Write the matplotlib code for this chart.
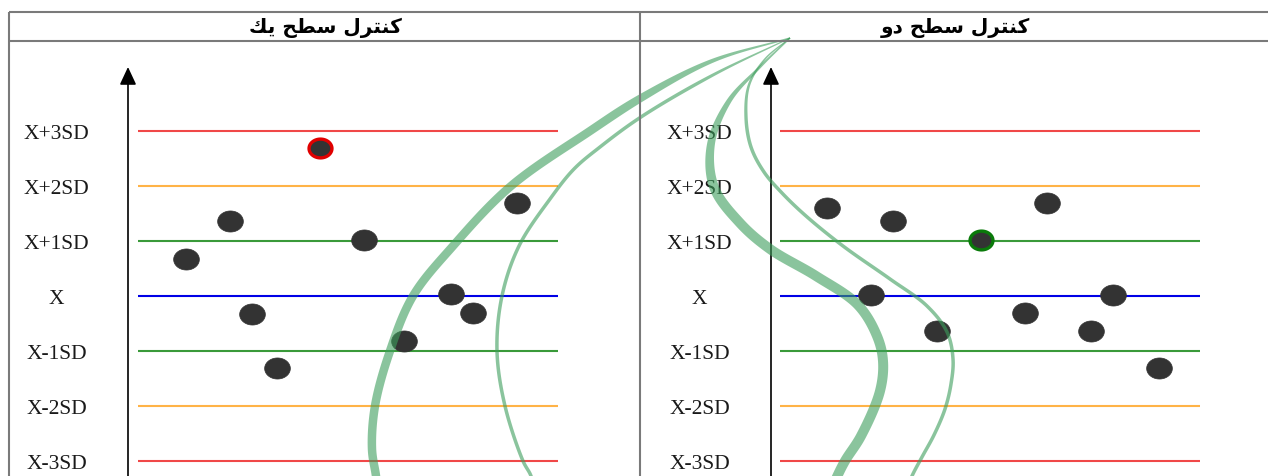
import numpy as np
import matplotlib
matplotlib.use("Agg")
import matplotlib.pyplot as plt
from matplotlib.path import Path
from matplotlib.patches import Polygon

# ---------------- data ----------------
titles = ["كنترل سطح يك", "كنترل سطح دو"]
level_values = [3, 2, 1, 0, -1, -2, -3]
level_labels = ["X+3SD", "X+2SD", "X+1SD", "X", "X-1SD", "X-2SD", "X-3SD"]

level1_x = [48, 92, 114, 139, 182, 226, 266, 313, 335, 379]
level1_y = [0.67, 1.36, -0.33, -1.31, 2.69, 1.02, -0.82, 0.04, -0.31, 1.70]
level1_flag = 4          # point ringed in red

level2_x = [47, 91, 113, 157, 201, 245, 267, 311, 333, 379]
level2_y = [1.60, 0.02, 1.36, -0.64, 1.02, -0.30, 1.69, -0.64, 0.02, -1.30]
level2_flag = 4          # point ringed in green

line_span = (0, 420)

# ---------------- styles ----------------
level_colors = ["#f04848", "#ffb347", "#3a9a3a", "#0000e6", "#3a9a3a", "#ffb347", "#f04848"]
flag_colors = ["#e00000", "#0a7a0a"]
point_color = "#333333"
frame_color = "#7a7a7a"
band_color = (0.24, 0.62, 0.36)

W, H = 1268, 477
fig = plt.figure(figsize=(W / 100, H / 100), dpi=100)
fig.patch.set_facecolor("white")

# ---------- Arabic shaping (presentation forms, visual order) ----------
FORMS = {
    "ك": ("\uFED9", "\uFEDA", "\uFEDB", "\uFEDC"),
    "ن": ("\uFEE5", "\uFEE6", "\uFEE7", "\uFEE8"),
    "ت": ("\uFE95", "\uFE96", "\uFE97", "\uFE98"),
    "ر": ("\uFEAD", "\uFEAE", "\uFEAD", "\uFEAE"),
    "ل": ("\uFEDD", "\uFEDE", "\uFEDF", "\uFEE0"),
    "س": ("\uFEB1", "\uFEB2", "\uFEB3", "\uFEB4"),
    "ط": ("\uFEC1", "\uFEC2", "\uFEC3", "\uFEC4"),
    "ح": ("\uFEA1", "\uFEA2", "\uFEA3", "\uFEA4"),
    "ي": ("\uFEF1", "\uFEF2", "\uFEF3", "\uFEF4"),
    "د": ("\uFEA9", "\uFEAA", "\uFEA9", "\uFEAA"),
    "و": ("\uFEED", "\uFEEE", "\uFEED", "\uFEEE"),
}
NONJOIN = set("ردو")


def shape(text):
    out = []
    for i, ch in enumerate(text):
        if ch not in FORMS:
            out.append(ch)
            continue
        prev = text[i - 1] if i > 0 else None
        nxt = text[i + 1] if i < len(text) - 1 else None
        jp = prev in FORMS and prev not in NONJOIN
        jn = nxt in FORMS and ch not in NONJOIN
        iso, fin, ini, med = FORMS[ch]
        out.append(med if (jp and jn) else fin if jp else ini if jn else iso)
    return "".join(out)[::-1]


# ---------------- panels ----------------
def px_axes(l, r, t, b):
    return fig.add_axes([l / W, 1 - b / H, (r - l) / W, (b - t) / H])


theta = np.linspace(0, 2 * np.pi, 60)
ellipse = Path(np.column_stack([np.cos(theta), 0.82 * np.sin(theta)]), closed=True)

panels = [
    (128, level1_x, level1_y, level1_flag, flag_colors[0], 138),
    (771, level2_x, level2_y, level2_flag, flag_colors[1], 780),
]
for left, xs, ys, flag, fcol, x0 in panels:
    ax = px_axes(left, left + 492, 68, H)
    ax.set_zorder(1)
    ax.patch.set_alpha(0)
    ax.set_xlim(left - x0, left - x0 + 492)
    ax.set_ylim((297 - H) / 55, (297 - 68) / 55)
    for v, c in zip(level_values, level_colors):
        ax.hlines(v, *line_span, color=c, lw=1.5)
    normal = [i for i in range(len(xs)) if i != flag]
    ax.plot([xs[i] for i in normal], [ys[i] for i in normal], ls="none",
            marker=ellipse, ms=18.5, mfc=point_color, mec=point_color, mew=0.5, zorder=4)
    ax.plot([xs[flag]], [ys[flag]], ls="none", marker=ellipse, ms=16.5,
            mfc=point_color, mec=fcol, mew=2.4, zorder=4)
    for s in ax.spines.values():
        s.set_visible(False)
    ax.set_xticks([])
    ax.set_yticks(level_values, level_labels)
    ax.tick_params(axis="y", length=0, pad=51.5, labelsize=15.5, labelcolor="#1a1a1a")
    for lab in ax.get_yticklabels():
        lab.set_fontfamily("Liberation Serif")
        lab.set_horizontalalignment("center")
    ax.annotate("", xy=(0, 1), xytext=(0, -0.02), xycoords="axes fraction",
                arrowprops=dict(arrowstyle="-|>,head_length=0.9,head_width=0.42",
                                color="black", lw=1.2, mutation_scale=12,
                                shrinkA=0, shrinkB=0),
                annotation_clip=False)

# ---------------- overlay: frame, titles, decorative bands ----------------
ov = fig.add_axes([0, 0, 1, 1])
ov.set_xlim(0, W)
ov.set_ylim(H, 0)
ov.axis("off")
ov.set_zorder(5)
ov.patch.set_alpha(0)

for (xa, xb), (ya, yb) in [((9, W), (13, 13)), ((9, W), (42, 42)),
                           ((9, 9), (13, H)), ((640, 640), (13, H))]:
    ov.plot([xa, xb], [ya, yb], color=frame_color, lw=1.5, solid_capstyle="butt")

for cx, t in zip([325, 955], titles):
    ov.text(cx, 28, shape(t), ha="center", va="center", fontsize=14.5,
            fontweight="bold", family=["DejaVu Sans"], color="black")


def catmull(pts, n=40, a=0.5):
    P = np.array(pts, float)
    P = np.vstack([2 * P[0] - P[1], P, 2 * P[-1] - P[-2]])
    out = []
    for i in range(1, len(P) - 2):
        p0, p1, p2, p3 = P[i - 1], P[i], P[i + 1], P[i + 2]
        t0 = 0.0
        t1 = t0 + np.linalg.norm(p1 - p0) ** a
        t2 = t1 + np.linalg.norm(p2 - p1) ** a
        t3 = t2 + np.linalg.norm(p3 - p2) ** a
        t = np.linspace(t1, t2, n, endpoint=False)[:, None]
        A1 = (t1 - t) / (t1 - t0) * p0 + (t - t0) / (t1 - t0) * p1
        A2 = (t2 - t) / (t2 - t1) * p1 + (t - t1) / (t2 - t1) * p2
        A3 = (t3 - t) / (t3 - t2) * p2 + (t - t2) / (t3 - t2) * p3
        B1 = (t2 - t) / (t2 - t0) * A1 + (t - t0) / (t2 - t0) * A2
        B2 = (t3 - t) / (t3 - t1) * A2 + (t - t1) / (t3 - t1) * A3
        out.append((t2 - t) / (t2 - t1) * B1 + (t - t1) / (t2 - t1) * B2)
    out.append(P[-2][None])
    return np.vstack(out)


def band(pts, wmax, wmin=1.5, taper=0.3, alpha=0.6):
    c = catmull(pts)
    d = np.gradient(c, axis=0)
    d /= np.linalg.norm(d, axis=1)[:, None]
    nrm = np.column_stack([-d[:, 1], d[:, 0]])
    s = np.cumsum(np.r_[0, np.linalg.norm(np.diff(c, axis=0), axis=1)])
    s /= s[-1]
    k = np.clip(s / taper, 0, 1)
    w = wmin + (wmax - wmin) * (3 * k ** 2 - 2 * k ** 3)
    h = (w / 2)[:, None]
    poly = np.vstack([c + nrm * h, (c - nrm * h)[::-1]])
    ov.add_patch(Polygon(poly, closed=True, fc=band_color, ec="none", alpha=alpha))


apex = (790, 39)
band([apex, (712, 62), (641, 99), (590, 132), (511, 187), (453, 247), (413, 297),
      (390, 352), (375, 407), (372, 450), (376, 477), (378, 495)], 8.5, taper=0.3)
band([apex, (713, 76), (641, 118), (600, 148), (574, 170), (550, 200), (519, 247),
      (502, 297), (497, 352), (505, 407), (523, 462), (531, 477), (535, 495)],
     3.5, wmin=1.2, taper=0.2)
band([apex, (760, 68), (729, 102), (711, 145), (714, 188), (740, 224), (770, 250),
      (816, 277), (858, 306), (877, 337), (883, 362), (880, 392), (861, 437),
      (845, 462), (836, 480), (830, 495)], 10, taper=0.35)
band([apex, (765, 60), (749, 86), (746, 118), (751, 148), (764, 173), (782, 194),
      (806, 217), (843, 247), (890, 280), (927, 307), (947, 333), (953, 360),
      (951, 385), (945, 410), (934, 436), (922, 458), (912, 477), (905, 495)],
     3.5, wmin=1.2, taper=0.2)

fig.savefig("out.png", dpi=100)
